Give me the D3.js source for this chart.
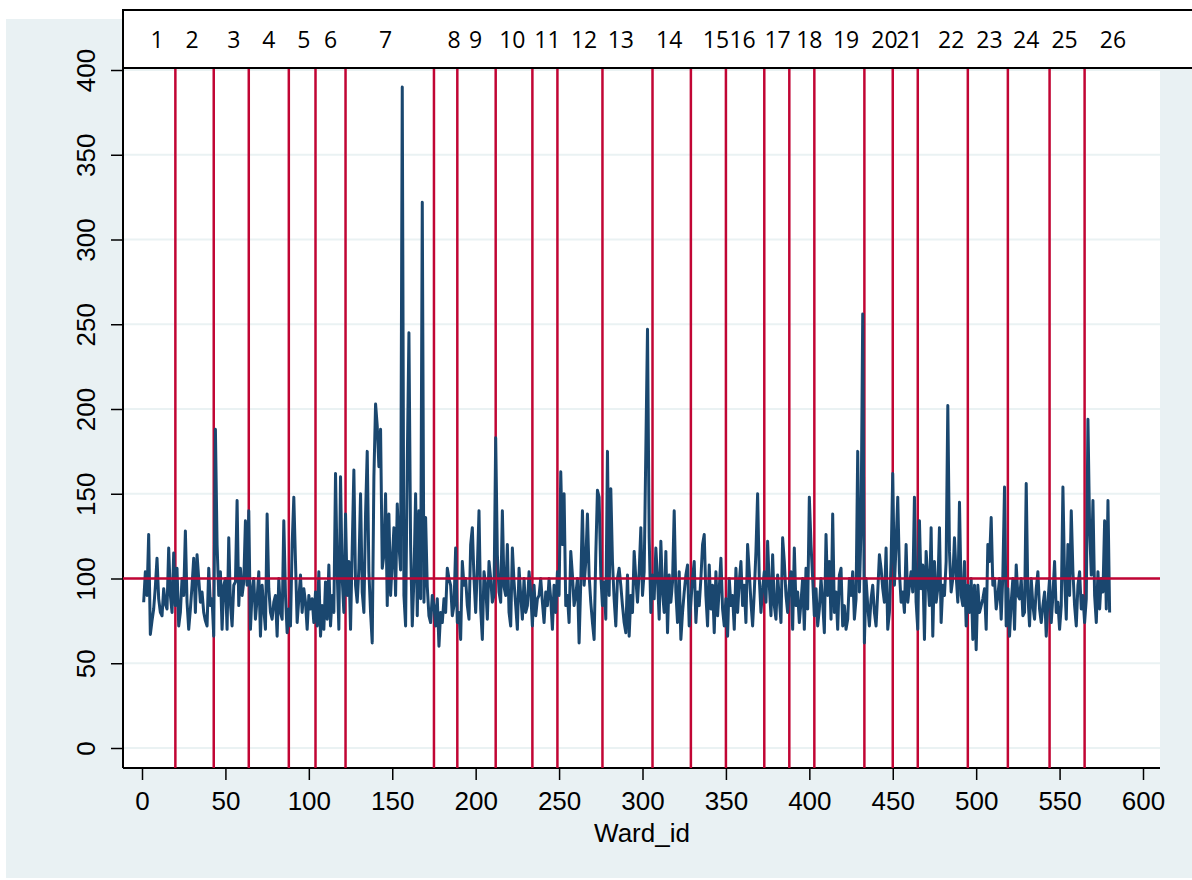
<!DOCTYPE html>
<html><head><meta charset="utf-8">
<script src="https://cdn.jsdelivr.net/npm/d3@7"></script>
<style>body{margin:0;background:#fff}svg{display:block}</style>
</head><body><svg width="1192" height="880"></svg>
<script>
const values = [
86,104,90,126,67,75,82,95,112,88,80,78,94,85,82,118,90,80,115,84,
106,72,80,100,90,128,86,70,82,96,112,80,114,100,86,92,80,75,72,106,
84,88,66,188,120,90,104,70,96,100,70,124,85,72,96,98,146,84,106,90,
98,134,96,140,70,92,100,76,88,104,66,96,82,70,138,94,80,76,86,90,
66,100,80,76,134,90,68,82,72,120,148,110,74,88,102,80,94,86,70,90,
82,88,74,92,72,104,66,84,70,98,76,108,72,90,80,162,104,70,160,100,
80,138,90,110,70,118,164,96,86,106,150,92,80,138,175,104,80,62,160,203,
190,166,188,106,114,150,84,138,90,110,130,90,144,120,105,390,90,72,168,245,
120,72,100,150,78,140,88,322,86,136,95,78,74,90,84,72,88,60,80,74,
88,80,106,100,96,78,84,118,74,80,64,110,96,100,84,76,120,130,100,80,
106,140,82,64,104,96,76,110,100,86,90,183,114,92,86,140,95,90,120,80,
72,118,98,84,70,106,90,76,100,80,84,104,92,72,96,78,88,90,100,86,
74,92,84,100,88,70,96,80,104,90,163,120,150,84,90,74,116,102,84,90,
100,62,98,140,96,110,138,102,86,74,64,114,152,148,102,84,98,76,175,90,
153,110,88,72,100,106,96,84,74,68,102,66,90,80,116,100,86,104,130,90,
104,176,247,124,80,102,88,118,100,76,122,92,80,116,68,102,86,98,140,92,
74,104,64,80,92,102,108,72,86,100,110,74,92,84,100,120,126,90,72,108,
82,96,68,104,78,94,112,82,72,88,66,100,84,90,70,106,80,98,110,84,
96,74,120,104,86,72,92,116,150,100,80,94,104,86,122,96,78,114,84,76,
102,88,74,124,110,90,80,96,104,70,118,84,92,74,86,100,70,106,82,148,
120,100,78,94,72,82,100,86,68,126,90,110,76,138,80,92,70,102,106,72,
84,70,76,100,90,104,76,88,175,92,130,256,62,100,84,72,88,96,80,72,
92,114,106,94,86,118,70,80,110,162,96,120,148,104,86,92,80,120,86,96,
104,92,148,86,70,134,94,108,64,116,100,84,130,66,110,86,94,130,74,96,
90,110,202,116,92,100,124,102,86,145,90,84,110,72,96,80,100,64,96,58,
96,80,84,88,94,70,120,110,136,96,100,82,90,100,76,102,154,72,94,66,
86,100,70,108,90,88,100,78,80,156,90,72,100,84,76,94,104,82,74,84,
92,66,86,100,74,90,110,80,86,70,84,154,100,76,120,90,140,104,84,72,
96,104,82,90,74,88,194,130,102,146,90,74,104,82,100,92,134,82,146,80
];
const boundaries = [20,43,64,88,104,122,175,189,212,234,249,276,306,329,350,373,388,403,433,450,465,495,519,544,565];
const wardLabels = ["1","2","3","4","5","6","7","8","9","10","11","12","13","14","15","16","17","18","19","20","21","22","23","24","25","26"];
const labelPos = [9,30,55,76,97,113,146,187,200,222,243,265,287,316,344,360,381,400,422,445,460,485,508,530,553,582];
const yTicks = [0,50,100,150,200,250,300,350,400];
const xTicks = [0,50,100,150,200,250,300,350,400,450,500,550,600];

const svg = d3.select("svg");
const L = 123, R = 1160, T = 68, B = 768;
const x = d3.scaleLinear().domain([0,600]).range([142,1143]);
const y = d3.scaleLinear().domain([0,400]).range([748,70]);
const font = "'Liberation Sans', Arial, sans-serif";

svg.append("rect").attr("x",6).attr("y",19).attr("width",1186).attr("height",859).attr("fill","#e9f1f3");
svg.append("rect").attr("x",L).attr("y",T).attr("width",R-L).attr("height",B-T).attr("fill","#fff");

// grid
svg.append("g").selectAll("line").data(yTicks).join("line")
  .attr("x1",L).attr("x2",R).attr("y1",d=>y(d)).attr("y2",d=>y(d))
  .attr("stroke","#eaf2f3").attr("stroke-width",2);

// axes
const ya = svg.append("g").attr("transform",`translate(${L},0)`)
  .call(d3.axisLeft(y).tickValues(yTicks).tickSize(12).tickPadding(14).tickSizeOuter(0));
ya.select(".domain").attr("stroke","#000").attr("stroke-width",2).attr("d",`M0,${T}V${B}`);
ya.selectAll(".tick line").attr("stroke","#000").attr("stroke-width",1.5);
ya.selectAll(".tick text").attr("font-family",font).attr("font-size",26).attr("fill","#000")
  .attr("transform","rotate(-90)").attr("x",0).attr("y",-28).attr("dy",0).attr("text-anchor","middle");

const xa = svg.append("g").attr("transform",`translate(0,${B})`)
  .call(d3.axisBottom(x).tickValues(xTicks).tickSize(12).tickPadding(12).tickSizeOuter(0));
xa.select(".domain").attr("stroke","#000").attr("stroke-width",2).attr("d",`M${L},0H${R}`);
xa.selectAll(".tick line").attr("stroke","#000").attr("stroke-width",1.5);
xa.selectAll(".tick text").attr("font-family",font).attr("font-size",26).attr("fill","#000");

svg.append("text").attr("x",642).attr("y",842).attr("text-anchor","middle")
  .attr("font-family",font).attr("font-size",26).text("Ward_id");

// boundaries
svg.append("g").selectAll("line").data(boundaries).join("line")
  .attr("x1",d=>x(d)).attr("x2",d=>x(d)).attr("y1",T).attr("y2",B)
  .attr("stroke","#c10534").attr("stroke-width",2.5);

// series
svg.append("path").datum(values)
  .attr("d",d3.line().x((d,i)=>x(i+1)).y(d=>y(d)))
  .attr("fill","none").attr("stroke","#1a476f").attr("stroke-width",3).attr("stroke-linejoin","round");

svg.append("line").attr("x1",L).attr("x2",R).attr("y1",y(100)).attr("y2",y(100))
  .attr("stroke","#c10534").attr("stroke-width",2.5);

// top box
svg.append("rect").attr("x",L).attr("y",10).attr("width",1192-L+2).attr("height",T-10)
  .attr("fill","#fff").attr("stroke","#000").attr("stroke-width",2);
svg.append("g").selectAll("text").data(wardLabels).join("text")
  .attr("x",(d,i)=>x(labelPos[i])).attr("y",48).attr("text-anchor","middle")
  .attr("font-family","'Open Sans', sans-serif").attr("font-size",23).text(d=>d);
</script></body></html>
